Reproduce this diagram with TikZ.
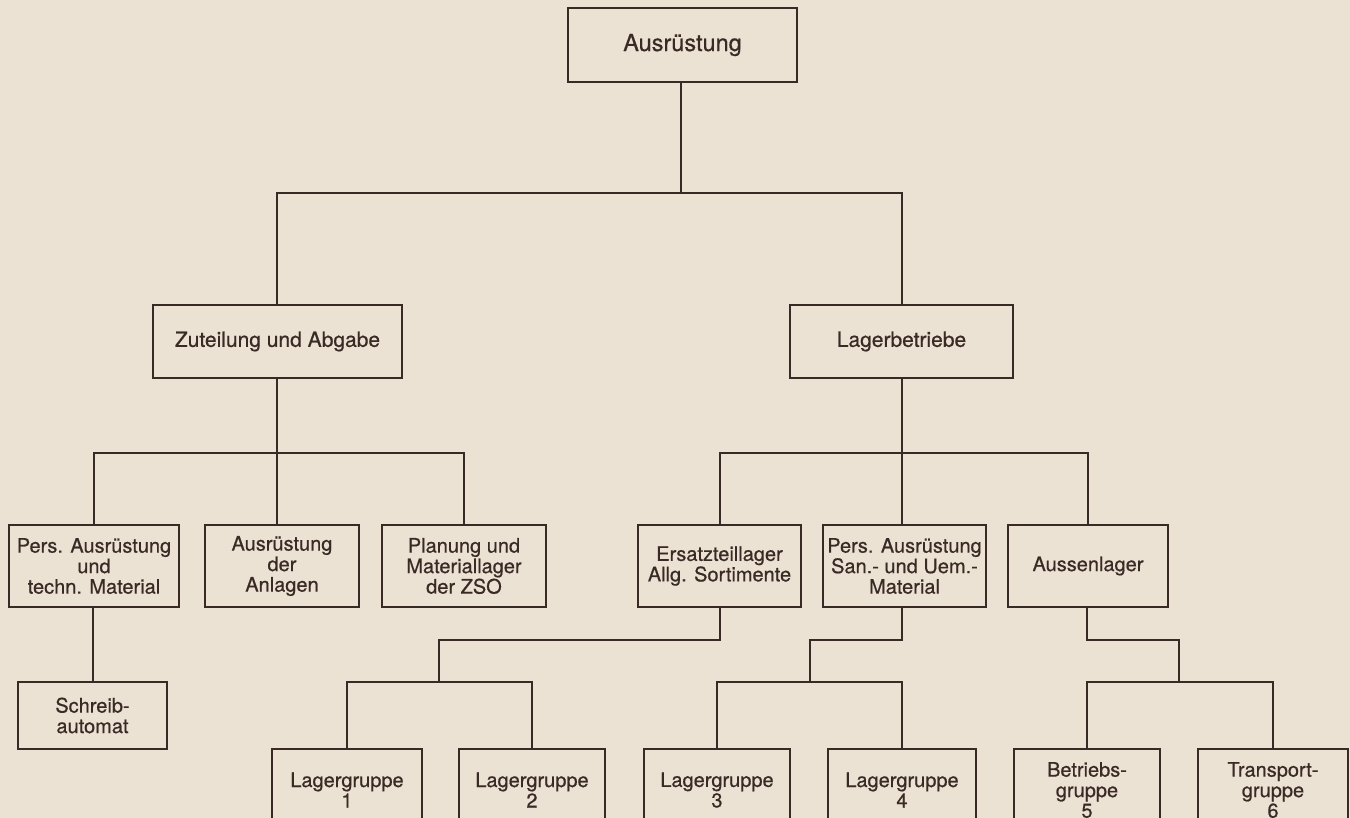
\documentclass[tikz,border=0pt]{standalone}
\usepackage{fontspec}
\setmainfont[FakeBold=0.6]{TeX Gyre Heros}
\definecolor{paper}{RGB}{236,226,211}
\definecolor{ink}{RGB}{58,42,38}
\begin{document}
\begin{tikzpicture}[x=1pt,y=-1pt,
  box/.style={draw=ink, line width=2pt, fill=paper, text=ink, align=center, inner sep=0pt,
    font=\fontsize{20}{20.5}\selectfont},
  bigbox/.style={box, font=\fontsize{21}{22}\selectfont},
  link/.style={draw=ink, line width=2pt}]
\clip (0,0) rectangle (1350,818);
\fill[paper] (0,0) rectangle (1350,818);
% level 1 and 2
\node[bigbox, font=\fontsize{23.5}{24}\selectfont, minimum width=229pt, minimum height=74pt] (top) at (682.5,45) {Ausrüstung};
\node[bigbox, minimum width=249pt, minimum height=73pt] (zut) at (277.5,341.5) {Zuteilung und Abgabe};
\node[bigbox, minimum width=223pt, minimum height=73pt] (lag) at (901.5,341.5) {Lagerbetriebe};
% level 3
\node[box, minimum width=170pt, minimum height=82pt] (a1) at (94,566) {Pers. Ausrüstung\\und\\techn. Material};
\node[box, minimum width=154pt, minimum height=82pt] (a2) at (282,566) {Ausrüstung\\der\\Anlagen};
\node[box, minimum width=164pt, minimum height=82pt] (a3) at (464,566) {Planung und\\Materiallager\\der ZSO};
\node[box, minimum width=163pt, minimum height=82pt] (b1) at (719.5,566) {Ersatzteillager\\Allg. Sortimente};
\node[box, minimum width=163pt, minimum height=82pt] (b2) at (904.5,566) {Pers. Ausrüstung\\San.- und Uem.-\\Material};
\node[box, minimum width=160pt, minimum height=82pt] (b3) at (1088,566) {Aussenlager};
% level 4
\node[box, minimum width=149pt, minimum height=67pt] (sa) at (92.5,715.5) {Schreib-\\automat};
\node[box, minimum width=150pt, minimum height=82pt] (lg1) at (347,790) {Lagergruppe\\1};
\node[box, minimum width=146pt, minimum height=82pt] (lg2) at (532,790) {Lagergruppe\\2};
\node[box, minimum width=146pt, minimum height=82pt] (lg3) at (717,790) {Lagergruppe\\3};
\node[box, minimum width=148pt, minimum height=82pt] (lg4) at (902,790) {Lagergruppe\\4};
\node[box, minimum width=146pt, minimum height=82pt] (bg5) at (1087,790) {Betriebs-\\gruppe\\5};
\node[box, minimum width=150pt, minimum height=82pt] (tg6) at (1273,790) {Transport-\\gruppe\\6};
% junction coordinates
\coordinate (j0) at (681,193);
\coordinate (j1) at (277,453);
\coordinate (j2) at (902,453);
\coordinate (m1) at (439,640);
\coordinate (k1) at (439,682);
\coordinate (m2) at (810,640);
\coordinate (k2) at (810,682);
\coordinate (m3) at (1179,640);
\coordinate (k3) at (1179,682);
% connectors
\draw[link] (top.south -| j0) -- (j0);
\draw[link] (zut.north -| j1) |- (j0) -| (lag.north -| j2);
\draw[link] (zut.south -| j1) -- (j1);
\draw[link] (a1.north) |- (j1) -| (a3.north);
\draw[link] (j1) -- (j1 |- a2.north);
\draw[link] (lag.south -| j2) -- (j2);
\draw[link] (b1.north) |- (j2) -| (b3.north);
\draw[link] (j2) -- (j2 |- b2.north);
\draw[link] (a1.south -| 93,0) -- (sa.north -| 93,0);
\draw[link] (b1.south) |- (m1) -- (k1);
\draw[link] (lg1.north) |- (k1) -| (lg2.north);
\draw[link] (lg4.north |- b2.south) |- (m2) -- (k2);
\draw[link] (lg3.north) |- (k2) -| (lg4.north);
\draw[link] (bg5.north |- b3.south) |- (m3) -- (k3);
\draw[link] (bg5.north) |- (k3) -| (tg6.north);
\end{tikzpicture}
\end{document}
